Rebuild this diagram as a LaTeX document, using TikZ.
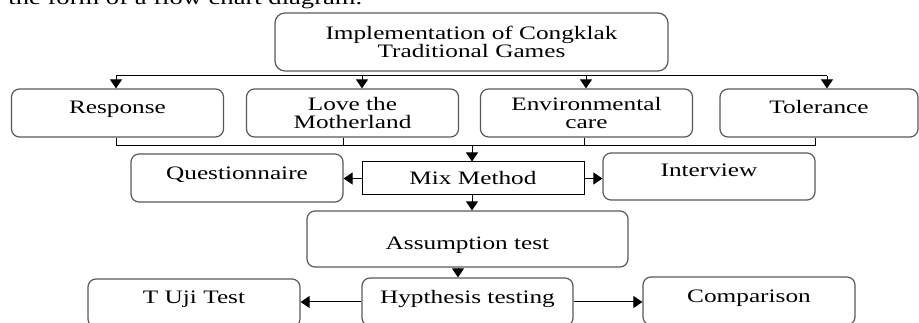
\documentclass[tikz,border=0pt]{standalone}
\usepackage{fontspec}
\setmainfont{Liberation Serif}[FakeStretch=1.33]
\usetikzlibrary{arrows.meta}

\begin{document}
\begin{tikzpicture}[x=1pt, y=-1pt, line width=1pt, >={Triangle[width=12pt,length=9pt]}, font=\fontsize{19}{18}\selectfont,
    round node/.style={draw=black!65, line width=1.2pt, rounded corners=8pt, minimum width=212pt, minimum height=48pt, align=center, inner sep=0pt},
    square node/.style={draw, minimum width=222pt, minimum height=33pt, inner sep=0pt},
    lift/.style={text height=12.6pt, text depth=#1}]
\useasboundingbox (0,0) rectangle (919,323);
\clip (0,0) rectangle (919,323);
\node[anchor=base west, inner sep=0pt, font=\fontsize{20}{24}\selectfont] (caption) at (8,4.5) {the form of a flow chart diagram.};
\node[round node, minimum width=393pt, minimum height=58pt, rounded corners=10pt] (impl) at (471.5,42) {Implementation of Congklak\\Traditional Games};
\node[round node, lift=12pt] (resp) at (117.5,113) {Response};
\node[round node] (love) at (352.5,113) {Love the\\Motherland};
\node[round node] (env) at (586.5,113) {Environmental\\care};
\node[round node, minimum width=198pt, lift=12pt] (tol) at (819,113) {Tolerance};
\node[square node, lift=0pt] (mix) at (473,178.5) {Mix Method};
\node[round node, lift=10pt] (quest) at (237,178) {Questionnaire};
\node[round node, minimum height=47pt, lift=13pt] (inter) at (709,176.5) {Interview};
\node[round node, minimum width=321pt, minimum height=56pt, text height=20.6pt, text depth=0pt] (assump) at (467.5,239) {Assumption test};
\node[round node, minimum width=211pt, lift=10pt] (hyp) at (467.5,302) {Hypthesis testing};
\node[round node, lift=12pt] (tuji) at (194,303) {T Uji Test};
\node[round node, lift=10pt] (comp) at (749,301) {Comparison};
\coordinate (t1) at (116,76);
\coordinate (t2) at (362,76);
\coordinate (t3) at (586,76);
\coordinate (t4) at (827,76);
\coordinate (b1) at (116,146);
\coordinate (b2) at (343,146);
\coordinate (b3) at (584,146);
\coordinate (b4) at (815,146);
\coordinate (bm) at (472,146);
\coordinate (am) at (458,267);
\draw (t1) -- (t4);
\foreach \c/\n in {t1/resp, t2/love, t3/env, t4/tol}
    \draw[->] (\c) -- (\c |- \n.north);
\draw (b1 |- resp.south) -- (b1) -- (b4) -- (b4 |- tol.south);
\draw (b2 |- love.south) -- (b2);
\draw (b3 |- env.south) -- (b3);
\draw[->] (bm) -- (bm |- mix.north);
\draw[->] (mix.west) -- (mix.west -| quest.east);
\draw[->] (mix.east) -- (mix.east -| inter.west);
\draw[->] (bm |- mix.south) -- (bm |- assump.north);
\draw[->] (am |- assump.south) -- (am |- hyp.north);
\draw[->] (hyp.west) -- (hyp.west -| tuji.east);
\draw[->] (hyp.east) -- (hyp.east -| comp.west);
\end{tikzpicture}
\end{document}
